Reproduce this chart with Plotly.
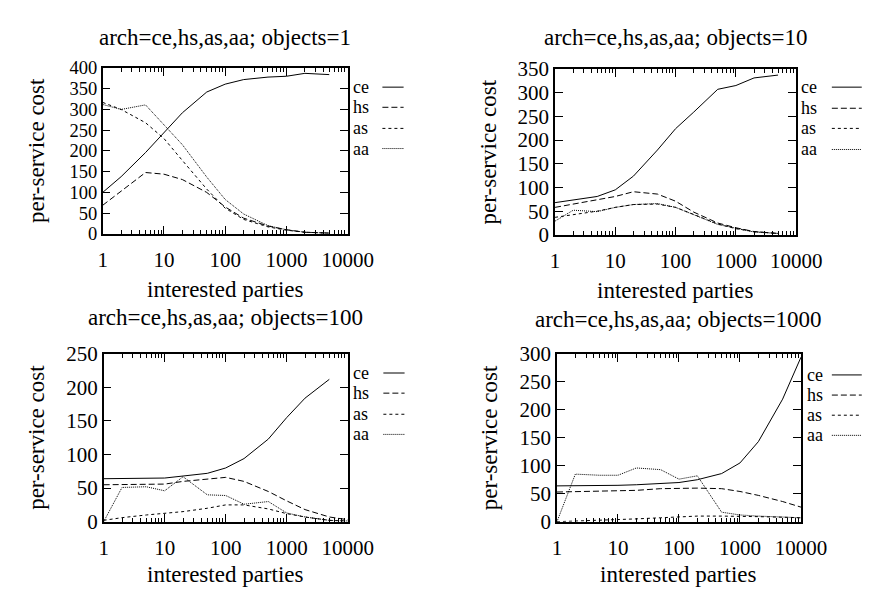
import plotly.graph_objects as go

W, H = 873, 589
FONT = "Liberation Serif, serif"
TICK_FS = 21
TEXT_FS = 23
LEG_FS = 18

series_names = ["ce", "hs", "as", "aa"]
dashes = {"ce": "solid", "hs": "6px,3px", "as": "3px,3px", "aa": "1px,1px"}

# panel 1: objects=1
x1 = [1, 2, 5, 10, 20, 50, 100, 200, 500, 1000, 2000, 5000]
ce1 = [100, 138, 196, 245, 292, 342, 361, 372, 378, 380, 387, 384]
hs1 = [69, 103, 148, 144, 131, 100, 65, 38, 19, 10, 4, 2]
as1 = [317, 300, 268, 230, 177, 108, 62, 35, 17, 9, 4, 2]
aa1 = [312, 300, 311, 262, 215, 137, 83, 48, 20, 10, 4, 2]

# panel 2: objects=10
x2 = [1, 2, 5, 10, 20, 50, 100, 200, 500, 1000, 2000, 5000]
ce2 = [68, 74, 81, 95, 124, 179, 224, 259, 307, 315, 331, 337]
hs2 = [58, 65, 73, 81, 91, 86, 71, 48, 25, 15, 7, 3]
as2 = [37, 43, 50, 58, 64, 65, 58, 43, 23, 13, 7, 3]
aa2 = [29, 52, 49, 58, 64, 66, 58, 43, 22, 14, 6, 3]

# panel 3: objects=100
x3 = [1, 2, 5, 10, 20, 50, 100, 200, 500, 1000, 2000, 5000, 10000]
ce3 = [64, 64, 65, 65, 68, 72, 80, 94, 123, 155, 184, 212]
hs3 = [55, 55, 56, 56, 60, 64, 66, 60, 45, 31, 18, 7, 3]
as3 = [2, 6, 10, 12, 15, 20, 25, 25, 19, 12, 7, 2, 1]
aa3 = [0, 51, 52, 46, 67, 40, 39, 26, 30, 13, 7, 2, 1]

# panel 4: objects=1000
x4 = [1, 2, 5, 10, 20, 50, 100, 200, 500, 1000, 2000, 5000, 10000]
ce4 = [64, 64, 65, 65, 66, 68, 70, 75, 86, 105, 143, 219, 294]
hs4 = [53, 54, 55, 55, 56, 59, 60, 60, 59, 54, 47, 36, 26]
as4 = [0, 1, 2, 3, 5, 7, 9, 10, 10, 10, 9, 8, 7]
aa4 = [0, 85, 83, 83, 96, 93, 76, 82, 17, 12, 10, 9, 7]

titles = ["arch=ce,hs,as,aa; objects=1", "arch=ce,hs,as,aa; objects=10",
          "arch=ce,hs,as,aa; objects=100", "arch=ce,hs,as,aa; objects=1000"]
y_max = [400, 350, 250, 300]
x_tick_vals = [1, 10, 100, 1000, 10000]
x_tick_text = ["1", "10", "100", "1000", "10000"]
x_title = "interested parties"
y_title = "per-service cost"

panels = [
    (x1, {"ce": ce1, "hs": hs1, "as": as1, "aa": aa1}),
    (x2, {"ce": ce2, "hs": hs2, "as": as2, "aa": aa2}),
    (x3, {"ce": ce3, "hs": hs3, "as": as3, "aa": aa3}),
    (x4, {"ce": ce4, "hs": hs4, "as": as4, "aa": aa4}),
]

# plot-area boxes in pixels: left, right, top, bottom
boxes = [(93, 347, 50, 223), (562, 812, 51, 224), (94, 347, 348, 523), (564, 817, 348, 523)]
# y tick font per panel (panel 1 ticks are packed tightly)
ytick_fs = [18.5, 21, 21, 21]
# title y, x-title y, y-title x
title_y = [18, 18, 310, 312]
xtitle_y = [281, 282, 578, 578]
ytitle_x = [25, 493, 25, 494]
# legend positions: text x, sample x0, x1, row y's
legends = [
    (350, 383, 405, [70, 91, 113, 134]),
    (815, 849, 880, [70, 92, 113, 135]),
    (350, 384, 406, [368, 389, 411, 432]),
    (821, 849, 880, [370, 391, 412, 433]),
]

fig = go.Figure()
annotations = []
shapes = []


def px(x):
    return x / W


def py(y):
    return 1 - y / H


def txt(text, x, y, size, xanchor="center", angle=0):
    return dict(text=text, xref="paper", yref="paper", x=px(x), y=py(y),
                xanchor=xanchor, yanchor="middle", showarrow=False, textangle=angle,
                font=dict(family=FONT, size=size, color="black"))


for i, (xs, data) in enumerate(panels):
    k = "" if i == 0 else str(i + 1)
    for name in series_names:
        ys = data[name]
        fig.add_trace(go.Scatter(
            x=xs[:len(ys)], y=ys, mode="lines", name=name, showlegend=False,
            line=dict(color="black", width=1, dash=dashes[name]),
            xaxis="x" + k, yaxis="y" + k))
    l, r, t, b = boxes[i]
    axis_common = dict(showline=True, linecolor="black", linewidth=1.5, mirror="allticks",
                       ticks="inside", tickcolor="black", showgrid=False, zeroline=False)
    fig.layout["xaxis" + k] = dict(
        domain=[px(l), px(r)], anchor="y" + k, type="log", range=[0, 4],
        tickvals=x_tick_vals, ticktext=x_tick_text, ticklen=8, tickwidth=1,
        minor=dict(ticks="inside", ticklen=4, tickcolor="black", dtick="D1", showgrid=False),
        ticklabelstandoff=6,
        tickfont=dict(family=FONT, size=TICK_FS, color="black"),
        **axis_common)
    fig.layout["yaxis" + k] = dict(
        domain=[py(b), py(t)], anchor="x" + k, range=[0, y_max[i]], dtick=50,
        ticklen=8, tickwidth=1,
        tickfont=dict(family=FONT, size=ytick_fs[i], color="black"),
        **axis_common)
    annotations.append(txt(titles[i], (l + r) / 2, title_y[i], TEXT_FS))
    annotations.append(txt(x_title, (l + r) / 2, xtitle_y[i], TEXT_FS))
    annotations.append(txt(y_title, ytitle_x[i], (t + b) / 2, TEXT_FS, angle=-90))
    tx, sx0, sx1, rows = legends[i]
    for name, yy in zip(series_names, rows):
        annotations.append(txt(name, tx, yy, LEG_FS, xanchor="left"))
        shapes.append(dict(type="line", xref="paper", yref="paper", x0=px(sx0), x1=px(sx1),
                           y0=py(yy), y1=py(yy),
                           line=dict(color="black", width=1, dash=dashes[name])))

fig.update_layout(width=W, height=H, margin=dict(l=0, r=0, t=0, b=0),
                  paper_bgcolor="white", plot_bgcolor="white",
                  annotations=annotations, shapes=shapes,
                  font=dict(family=FONT, size=TICK_FS, color="black"))
fig.write_html("out.html")
